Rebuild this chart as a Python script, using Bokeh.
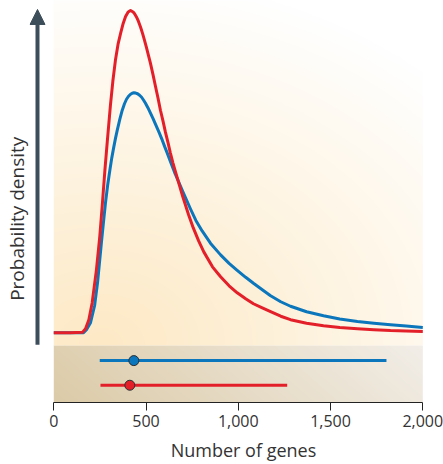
import numpy as np
from bokeh.plotting import figure
from bokeh.models import Range1d, FixedTicker, NumeralTickFormatter, Arrow, NormalHead
from bokeh.embed import file_html
from bokeh.resources import INLINE

# ---------------- data ----------------
genes_red = [0, 90, 155, 172, 190, 208, 231, 249, 264, 277, 291, 307, 320, 334, 348, 362, 376,
             389, 403, 416, 430, 437, 448, 459, 470, 481, 491, 502, 513, 524, 538, 551, 565,
             578, 592, 605, 619, 632, 646, 660, 698, 730, 756, 785, 813, 860, 904, 950, 994,
             1040, 1082, 1130, 1175, 1230, 1283, 1370, 1462, 1550, 1646, 1735, 1825, 1910, 2000]
dens_red = [0, 0, 0.003, 0.04, 0.13, 0.30, 0.63, 0.96, 1.31, 1.63, 1.94, 2.28, 2.52, 2.73,
            2.89, 3.00, 3.10, 3.17, 3.215, 3.23, 3.215, 3.20, 3.165, 3.12, 3.065, 3.00, 2.935,
            2.86, 2.78, 2.70, 2.585, 2.47, 2.35, 2.23, 2.12, 2.01, 1.905, 1.80, 1.70, 1.61,
            1.37, 1.185, 1.05, 0.92, 0.81, 0.66, 0.56, 0.47, 0.40, 0.34, 0.29, 0.248, 0.21,
            0.165, 0.13, 0.095, 0.07, 0.053, 0.04, 0.03, 0.021, 0.016, 0.012]

genes_blue = [0, 130, 161, 177, 199, 221, 237, 248, 259, 270, 280, 292, 304, 314, 324, 334,
              344, 358, 371, 383, 394, 405, 416, 425, 434, 444, 454, 465, 476, 487, 497, 510,
              524, 538, 551, 570, 588, 601, 615, 634, 654, 698, 741, 770, 804, 850, 904, 950,
              994, 1040, 1082, 1130, 1175, 1230, 1283, 1370, 1462, 1550, 1646, 1735, 1825,
              1910, 2000]
dens_blue = [0, 0, 0, 0.03, 0.10, 0.27, 0.50, 0.71, 0.92, 1.12, 1.30, 1.48, 1.63, 1.75, 1.85,
             1.945, 2.03, 2.14, 2.23, 2.295, 2.34, 2.37, 2.39, 2.40, 2.405, 2.402, 2.395, 2.38,
             2.36, 2.33, 2.30, 2.255, 2.20, 2.145, 2.09, 2.01, 1.93, 1.865, 1.80, 1.705, 1.61,
             1.42, 1.24, 1.125, 1.02, 0.895, 0.78, 0.695, 0.625, 0.555, 0.495, 0.43, 0.37,
             0.31, 0.265, 0.21, 0.17, 0.138, 0.113, 0.095, 0.08, 0.066, 0.053]

interval_low = [249, 253]      # blue, red
interval_high = [1803, 1265]
interval_point = [434, 412]

x_ticks = [0, 500, 1000, 1500, 2000]

# ---------------- styles / layout ----------------
RED = "#e31f2a"
BLUE = "#0b76bb"
SLATE = "#3d4e5b"
TXT = "#333333"
NBSP = "\u00a0"

PXU = 0.1845                      # screen px per gene
LEFT = 29                         # frame left edge (px)
X0 = (LEFT - 53.3) / PXU
X1 = 2000 + (443 - 422.3) / PXU
Y0, Y1 = -0.70, 3.33
BAND_TOP = -0.13
ROW_Y = [-0.28, -0.527]

p = figure(width=443, height=464, output_backend="svg", toolbar_location=None,
           x_range=Range1d(X0, X1), y_range=Range1d(Y0, Y1),
           min_border=0, min_border_left=LEFT, min_border_right=0,
           min_border_top=0, min_border_bottom=61)
p.outline_line_color = None
p.background_fill_color = "white"
p.border_fill_color = "white"
p.grid.visible = False

# left axis used only for its label (padded so it sits a little higher)
yax = p.yaxis[0]
yax.ticker = FixedTicker(ticks=[])
yax.axis_line_color = None
yax.major_tick_line_color = None
yax.minor_tick_line_color = None
yax.major_tick_out = 0
yax.major_label_standoff = 0
yax.axis_label = "Probability density" + NBSP * 7
yax.axis_label_standoff = 0
yax.axis_label_text_font = "Open Sans"
yax.axis_label_text_font_size = "19px"
yax.axis_label_text_font_style = "normal"
yax.axis_label_text_color = TXT


def to_rgba(r, g, b):
    ny, nx = r.shape
    img = np.empty((ny, nx), dtype=np.uint32)
    v = img.view(dtype=np.uint8).reshape((ny, nx, 4))
    v[..., 0] = np.clip(r, 0, 255).astype(np.uint8)
    v[..., 1] = np.clip(g, 0, 255).astype(np.uint8)
    v[..., 2] = np.clip(b, 0, 255).astype(np.uint8)
    v[..., 3] = 255
    return img


# main panel gradient (cream -> white, from lower left)
nx, ny = 370, 346
px = np.linspace(0, 370, nx)[None, :] * np.ones((ny, 1))
py = np.linspace(0, 346, ny)[:, None] * np.ones((1, nx))
t = np.clip(np.sqrt(((px - 47) / 480.0) ** 2 + (py / 370.0) ** 2), 0, 1)
img_main = to_rgba(253 + 2 * t, 233 + 22 * t, 197 + 58 * t)
p.image_rgba(image=[img_main], x=0, y=BAND_TOP, dw=2000, dh=Y1 - BAND_TOP)

# band gradient (tan -> light grey)
nyb = 57
pxb = np.linspace(0, 1, nx)[None, :] * np.ones((nyb, 1))
pyb = np.linspace(0, 1, nyb)[:, None] * np.ones((1, nx))
s = np.clip(0.85 * pxb + 0.15 * pyb, 0, 1)
img_band = to_rgba(220 + 22 * s, 203 + 35 * s, 168 + 64 * s)
p.image_rgba(image=[img_band], x=0, y=Y0, dw=2000, dh=BAND_TOP - Y0)

# curves
p.line(genes_blue, dens_blue, line_color=BLUE, line_width=3, line_join="round")
p.line(genes_red, dens_red, line_color=RED, line_width=3, line_join="round")

# intervals
cols = [BLUE, RED]
p.segment(x0=interval_low, x1=interval_high, y0=ROW_Y, y1=ROW_Y, line_color=cols, line_width=3)
p.scatter(x=interval_point, y=ROW_Y, size=10, fill_color=cols, line_color="#2b2f33", line_width=1)

# y "axis" arrow
xa = X0 + (37 - LEFT) / PXU
p.add_layout(Arrow(end=NormalHead(size=15, fill_color=SLATE, line_color=SLATE, line_width=1),
                   x_start=xa, y_start=-0.12, x_end=xa, y_end=3.24,
                   line_color=SLATE, line_width=4))

# x axis
ax = p.xaxis[0]
ax.bounds = (0, 2000)
ax.ticker = FixedTicker(ticks=x_ticks)
ax.formatter = NumeralTickFormatter(format="0,0")
ax.axis_line_color = "#222222"
ax.axis_line_width = 1.2
ax.major_tick_line_color = "#222222"
ax.major_tick_out = 8
ax.major_tick_in = 0
ax.minor_tick_line_color = None
ax.major_label_standoff = 4
ax.major_label_text_font = "Open Sans"
ax.major_label_text_font_size = "16px"
ax.major_label_text_color = TXT
ax.axis_label = NBSP * 3 + "Number of genes"
ax.axis_label_standoff = 8
ax.axis_label_text_font = "Open Sans"
ax.axis_label_text_font_size = "18px"
ax.axis_label_text_font_style = "normal"
ax.axis_label_text_color = TXT

open("out.html", "w").write(file_html(p, INLINE))
